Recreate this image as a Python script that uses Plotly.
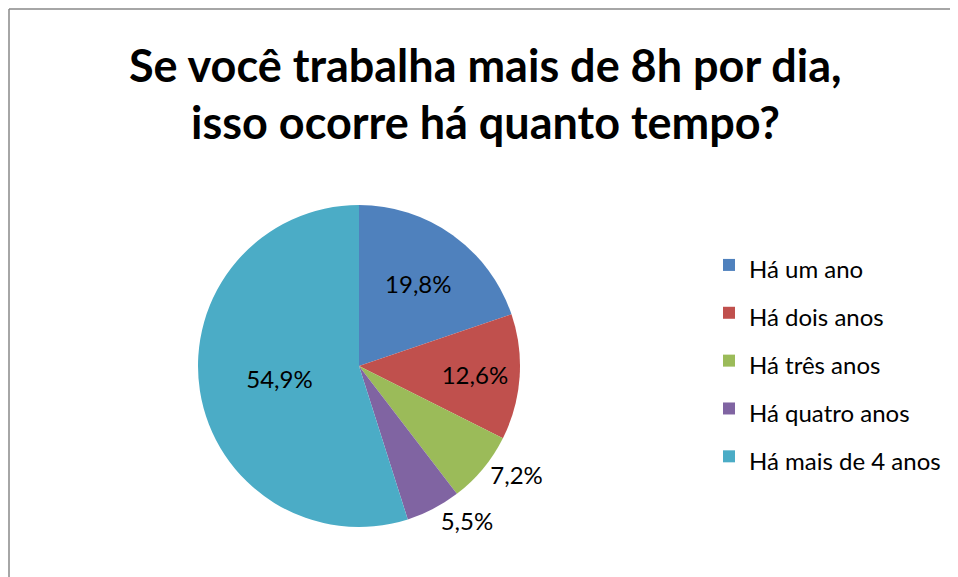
import plotly.graph_objects as go

categories = ["Há um ano", "Há dois anos", "Há três anos", "Há quatro anos", "Há mais de 4 anos"]
values = [19.8, 12.6, 7.2, 5.5, 54.9]
colors = ["#4F81BD", "#C0504D", "#9BBB59", "#8064A2", "#4BACC6"]
text_positions = ["inside", "inside", "outside", "outside", "inside"]
title_lines = ["Se você trabalha mais de 8h por dia,", "isso ocorre há quanto tempo?"]

W, H = 958, 577
OFF = 8  # page body margin
FONT = "Lato, 'Open Sans', sans-serif"
LABEL_SIZE = 24

legend_labels = ["<span style='font-size:%dpx'>%s</span>" % (LABEL_SIZE, c) for c in categories]

cx, cy, R = 359 - OFF, 366 - OFF, 161

fig = go.Figure(go.Pie(
    labels=legend_labels,
    hovertext=categories,
    values=values,
    sort=False,
    direction="clockwise",
    rotation=0,
    marker=dict(colors=colors, line=dict(width=0)),
    texttemplate="%{value:.1f}%",
    textposition=text_positions,
    insidetextorientation="horizontal",
    textfont=dict(family=FONT, size=LABEL_SIZE, color="#000000"),
    hoverinfo="text+percent",
    domain=dict(x=[(cx - R) / W, (cx + R) / W], y=[1 - (cy + R) / H, 1 - (cy - R) / H]),
    automargin=False,
))

for line, ypix in zip(title_lines, [57, 114]):
    fig.add_annotation(text="<b>" + line + "</b>", x=477 / W, y=1 - ypix / H,
                       xref="paper", yref="paper", showarrow=False, xanchor="center", yanchor="middle",
                       font=dict(family=FONT, size=45, color="#000000"))

# chart border (left and top edges visible)
fig.add_shape(type="line", xref="paper", yref="paper", x0=1 / W, x1=1.2, y0=1 - 1 / H, y1=1 - 1 / H,
              line=dict(color="#888888", width=1.5))
fig.add_shape(type="line", xref="paper", yref="paper", x0=1 / W, x1=1 / W, y0=-0.2, y1=1 - 1 / H,
              line=dict(color="#888888", width=1.5))

fig.update_layout(
    width=W, height=H,
    margin=dict(l=0, r=0, t=0, b=0),
    paper_bgcolor="#FFFFFF",
    plot_bgcolor="#FFFFFF",
    separators=",.",
    showlegend=True,
    legend=dict(x=701 / W, y=1 - 228 / H, xanchor="left", yanchor="top",
                font=dict(family=FONT, size=34.5, color="#000000"),
                tracegroupgap=0, itemwidth=30, bgcolor="rgba(0,0,0,0)"),
)

fig.write_html("out.html")
